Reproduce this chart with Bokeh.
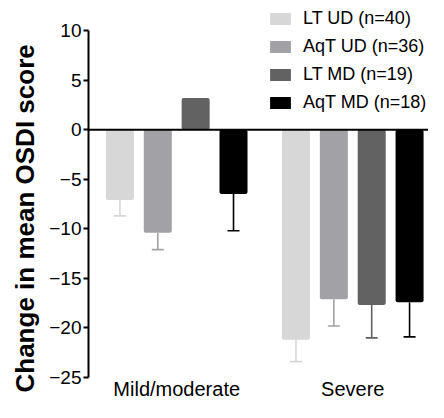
from bokeh.plotting import figure
from bokeh.models import (ColumnDataSource, Range1d, FixedTicker, Span, Legend,
                          LegendItem, CustomJSTickFormatter, Title)
from bokeh.embed import file_html
from bokeh.resources import INLINE

# ---- data ----
groups = ["Mild/moderate", "Severe"]
series = ["LT UD (n=40)", "AqT UD (n=36)", "LT MD (n=19)", "AqT MD (n=18)"]
mild_means = [-7.1, -10.4, 3.2, -6.5]
mild_err = [1.6, 1.7, 0.0, 3.7]
severe_means = [-21.2, -17.1, -17.7, -17.4]
severe_err = [2.2, 2.7, 3.3, 3.5]
colors = ["#d7d7d7", "#a2a2a6", "#626262", "#000000"]
y_ticks = [-25, -20, -15, -10, -5, 0, 5, 10]
y_label = "Change in mean OSDI score"

FONT = "Liberation Sans"
group_offsets = [0.0, 4.65]
bar_width = 0.74

p = figure(width=428, height=402, x_range=Range1d(-0.83, 8.15),
           y_range=Range1d(-25, 12.52), output_backend="svg", toolbar_location=None,
           min_border_left=88, min_border_right=0, min_border_top=5,
           min_border_bottom=25)
p.outline_line_color = None
p.xgrid.grid_line_color = None
p.ygrid.grid_line_color = None
p.background_fill_color = "white"

means = [mild_means, severe_means]
errs = [mild_err, severe_err]

renderers = []
for i, name in enumerate(series):
    xs = [group_offsets[g] + i for g in range(len(groups))]
    tops = [means[g][i] for g in range(len(groups))]
    src = ColumnDataSource(dict(x=xs, top=tops))
    r = p.vbar(x="x", top="top", bottom=0, width=bar_width, source=src,
               fill_color=colors[i], line_color=None, border_radius=2)
    renderers.append(r)
    ex, ey0, ey1 = [], [], []
    for g in range(len(groups)):
        e = errs[g][i]
        if e > 0:
            v = means[g][i]
            ex.append(xs[g])
            ey0.append(v)
            ey1.append(v - e if v < 0 else v + e)
    esrc = ColumnDataSource(dict(x=ex, y0=ey0, y1=ey1))
    p.segment(x0="x", y0="y0", x1="x", y1="y1", source=esrc,
              line_color=colors[i], line_width=1.6)
    p.scatter(x="x", y="y1", source=esrc, marker="dash", size=12,
              line_color=colors[i], line_width=1.6)

p.add_layout(Span(location=0, dimension="width", line_color="black", line_width=2))

# y axis
ya = p.yaxis[0]
ya.bounds = (y_ticks[0], y_ticks[-1])
ya.ticker = FixedTicker(ticks=y_ticks)
ya.formatter = CustomJSTickFormatter(
    code="return tick < 0 ? '\\u2212' + Math.abs(tick) : String(tick);")
ya.axis_line_width = 2
ya.major_tick_line_width = 2
ya.major_tick_out = 5
ya.major_tick_in = 0
ya.minor_tick_line_color = None
ya.major_label_text_font = FONT
ya.major_label_text_font_size = "19px"
ya.major_label_text_color = "black"
ya.major_label_standoff = 2

p.add_layout(Title(text=y_label, text_font=FONT, text_font_size="26px",
                   text_font_style="bold", text_color="black", align="left",
                   offset=-15, standoff=13), "left")

# x axis
centers = [round(group_offsets[g] + (len(series) - 1) / 2, 3) for g in range(len(groups))]
xa = p.xaxis[0]
xa.ticker = FixedTicker(ticks=centers)
xa.major_label_overrides = {c: lab for c, lab in zip(centers, groups)}
xa.axis_line_color = None
xa.major_tick_line_color = None
xa.major_tick_out = 0
xa.minor_tick_line_color = None
xa.major_label_text_font = FONT
xa.major_label_text_font_size = "20px"
xa.major_label_text_color = "black"
xa.major_label_standoff = 0

legend = Legend(items=[LegendItem(label=s, renderers=[r]) for s, r in zip(series, renderers)],
                location=(179, 264), orientation="vertical")
legend.glyph_width = 26
legend.glyph_height = 15
legend.label_height = 20
legend.label_standoff = 10
legend.spacing = 7
legend.padding = 0
legend.margin = 0
legend.border_line_color = None
legend.background_fill_alpha = 0
legend.label_text_font = FONT
legend.label_text_font_size = "18px"
legend.label_text_color = "black"
p.add_layout(legend)

open("out.html", "w").write(file_html(p, INLINE))
